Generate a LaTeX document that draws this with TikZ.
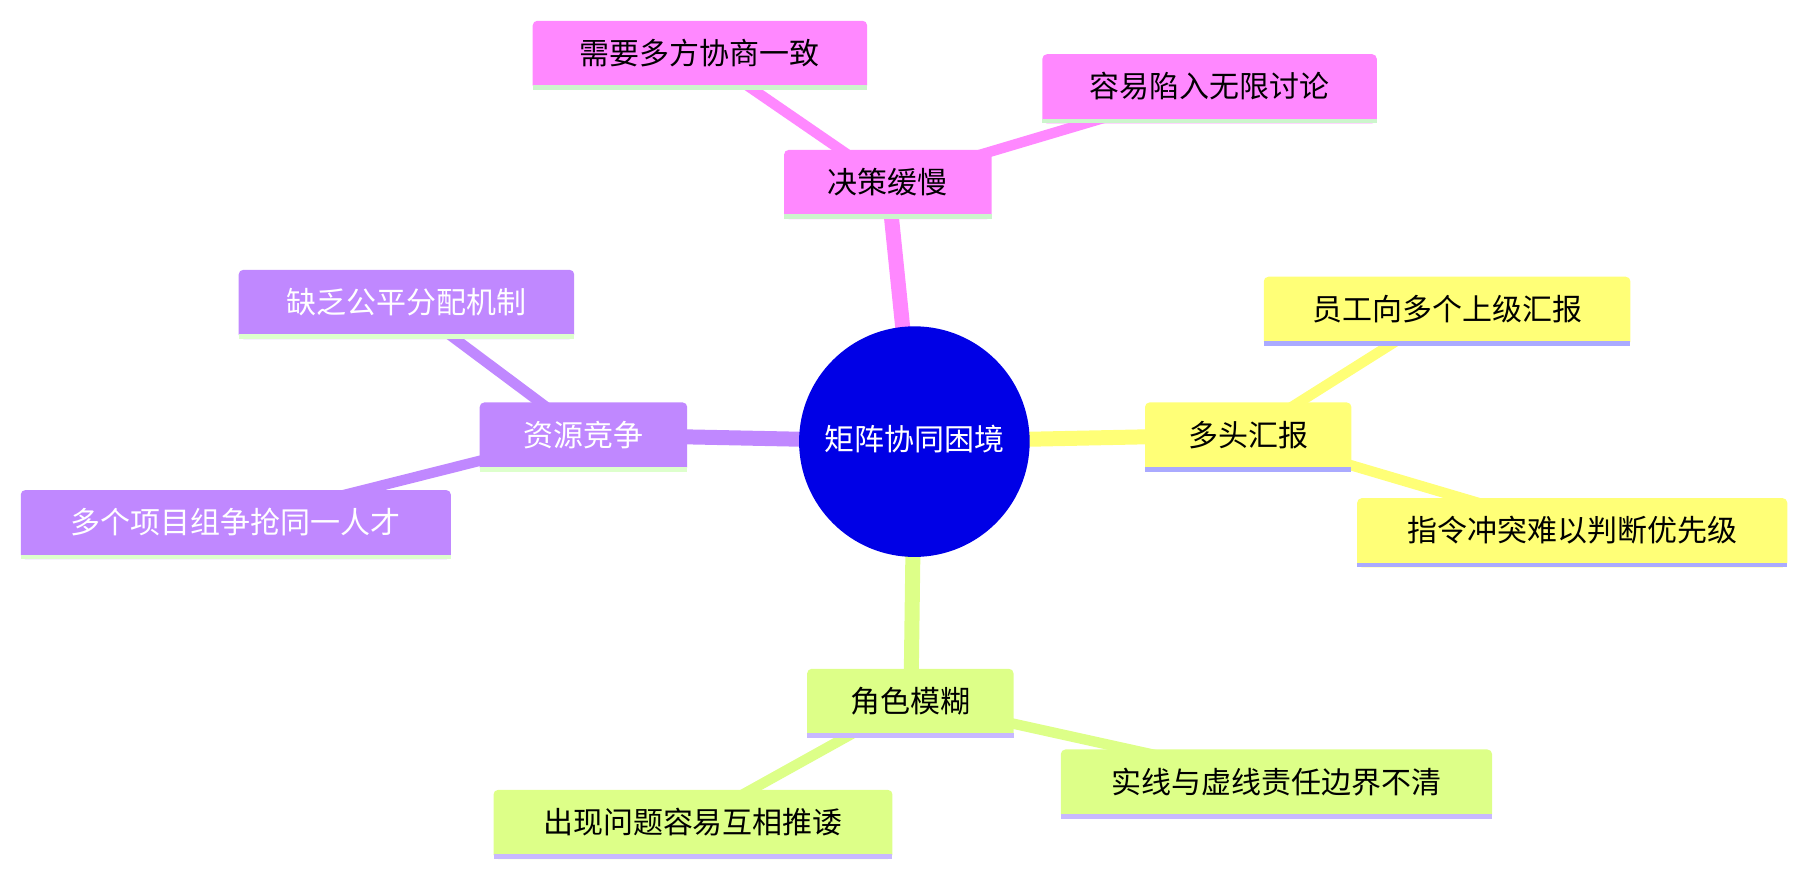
\documentclass[tikz,border=0pt]{standalone}
\usepackage{fontspec}
\newfontfamily\cjk{Noto Sans CJK SC}
\definecolor{pk}{HTML}{FF88FF}
\definecolor{yl}{HTML}{FFFF77}
\definecolor{gr}{HTML}{DDFF88}
\definecolor{pu}{HTML}{C088FF}
\definecolor{lgr}{HTML}{CCF5CC}
\definecolor{lbl}{HTML}{AAAAFF}
\definecolor{lpu}{HTML}{C8B8FF}
\definecolor{lgy}{HTML}{DDFFCC}
\definecolor{cb}{HTML}{0000E6}
\begin{document}
\begin{tikzpicture}[x=1pt,y=-1pt,font=\cjk\fontsize{26}{30}\selectfont,
 bx/.style={rounded corners=4pt,inner sep=0pt,minimum height=57pt,anchor=north west},
 br/.style={line width=13pt},
 lf/.style={line width=9pt}]
\useasboundingbox (0,0) rectangle (1568,760);
\newcommand\boxn[8]{% name,x1,y1,x2,y2,fill,line,text/color
 \fill[#6,rounded corners=4pt] (#2,#3) rectangle (#4,#5);
 \fill[#7] (#2,#5-4) rectangle (#4,#5);
 \node (#1) at ({(#2+#4)/2},{(#3+#5)/2-2}) {#8};}
\coordinate (c) at (793,383);
% edges
\coordinate (b1) at (770,158); \coordinate (b2) at (1082,377);
\coordinate (b3) at (790,608); \coordinate (b4) at (506,377);
\draw[br,pk] (c) -- (b1);
\draw[br,yl] (c) -- (b2);
\draw[br,gr] (c) -- (b3);
\draw[br,pu] (c) -- (b4);
\draw[lf,pk] (b1) -- (607,46);
\draw[lf,pk] (b1) -- (1049,75);
\draw[lf,yl] (b2) -- (1255,268);
\draw[lf,yl] (b2) -- (1363,460);
\draw[lf,gr] (b3) -- (601,713);
\draw[lf,gr] (b3) -- (1107,678);
\draw[lf,pu] (b4) -- (352,262);
\draw[lf,pu] (b4) -- (204,453);
% nodes
\fill[cb] (c) circle (100);
\node[text=white] (center) at (793,381) {矩阵协同困境};
\boxn{n1}{680}{130}{860}{190}{pk}{lgr}{决策缓慢}
\boxn{n11}{462}{18}{752}{78}{pk}{lgr}{需要多方协商一致}
\boxn{n12}{904}{47}{1194}{107}{pk}{lgr}{容易陷入无限讨论}
\boxn{n2}{993}{349}{1172}{409}{yl}{lbl}{多头汇报}
\boxn{n21}{1096}{240}{1414}{300}{yl}{lbl}{员工向多个上级汇报}
\boxn{n22}{1177}{432}{1550}{492}{yl}{lbl}{指令冲突难以判断优先级}
\boxn{n3}{700}{580}{879}{640}{gr}{lpu}{角色模糊}
\boxn{n31}{428}{685}{774}{745}{gr}{lpu}{出现问题容易互相推诿}
\boxn{n32}{920}{650}{1294}{710}{gr}{lpu}{实线与虚线责任边界不清}
\boxn{n4}{416}{349}{596}{409}{pu}{lgy}{\textcolor{white}{资源竞争}}
\boxn{n41}{207}{234}{498}{294}{pu}{lgy}{\textcolor{white}{缺乏公平分配机制}}
\boxn{n42}{18}{425}{391}{485}{pu}{lgy}{\textcolor{white}{多个项目组争抢同一人才}}
\end{tikzpicture}
\end{document}
